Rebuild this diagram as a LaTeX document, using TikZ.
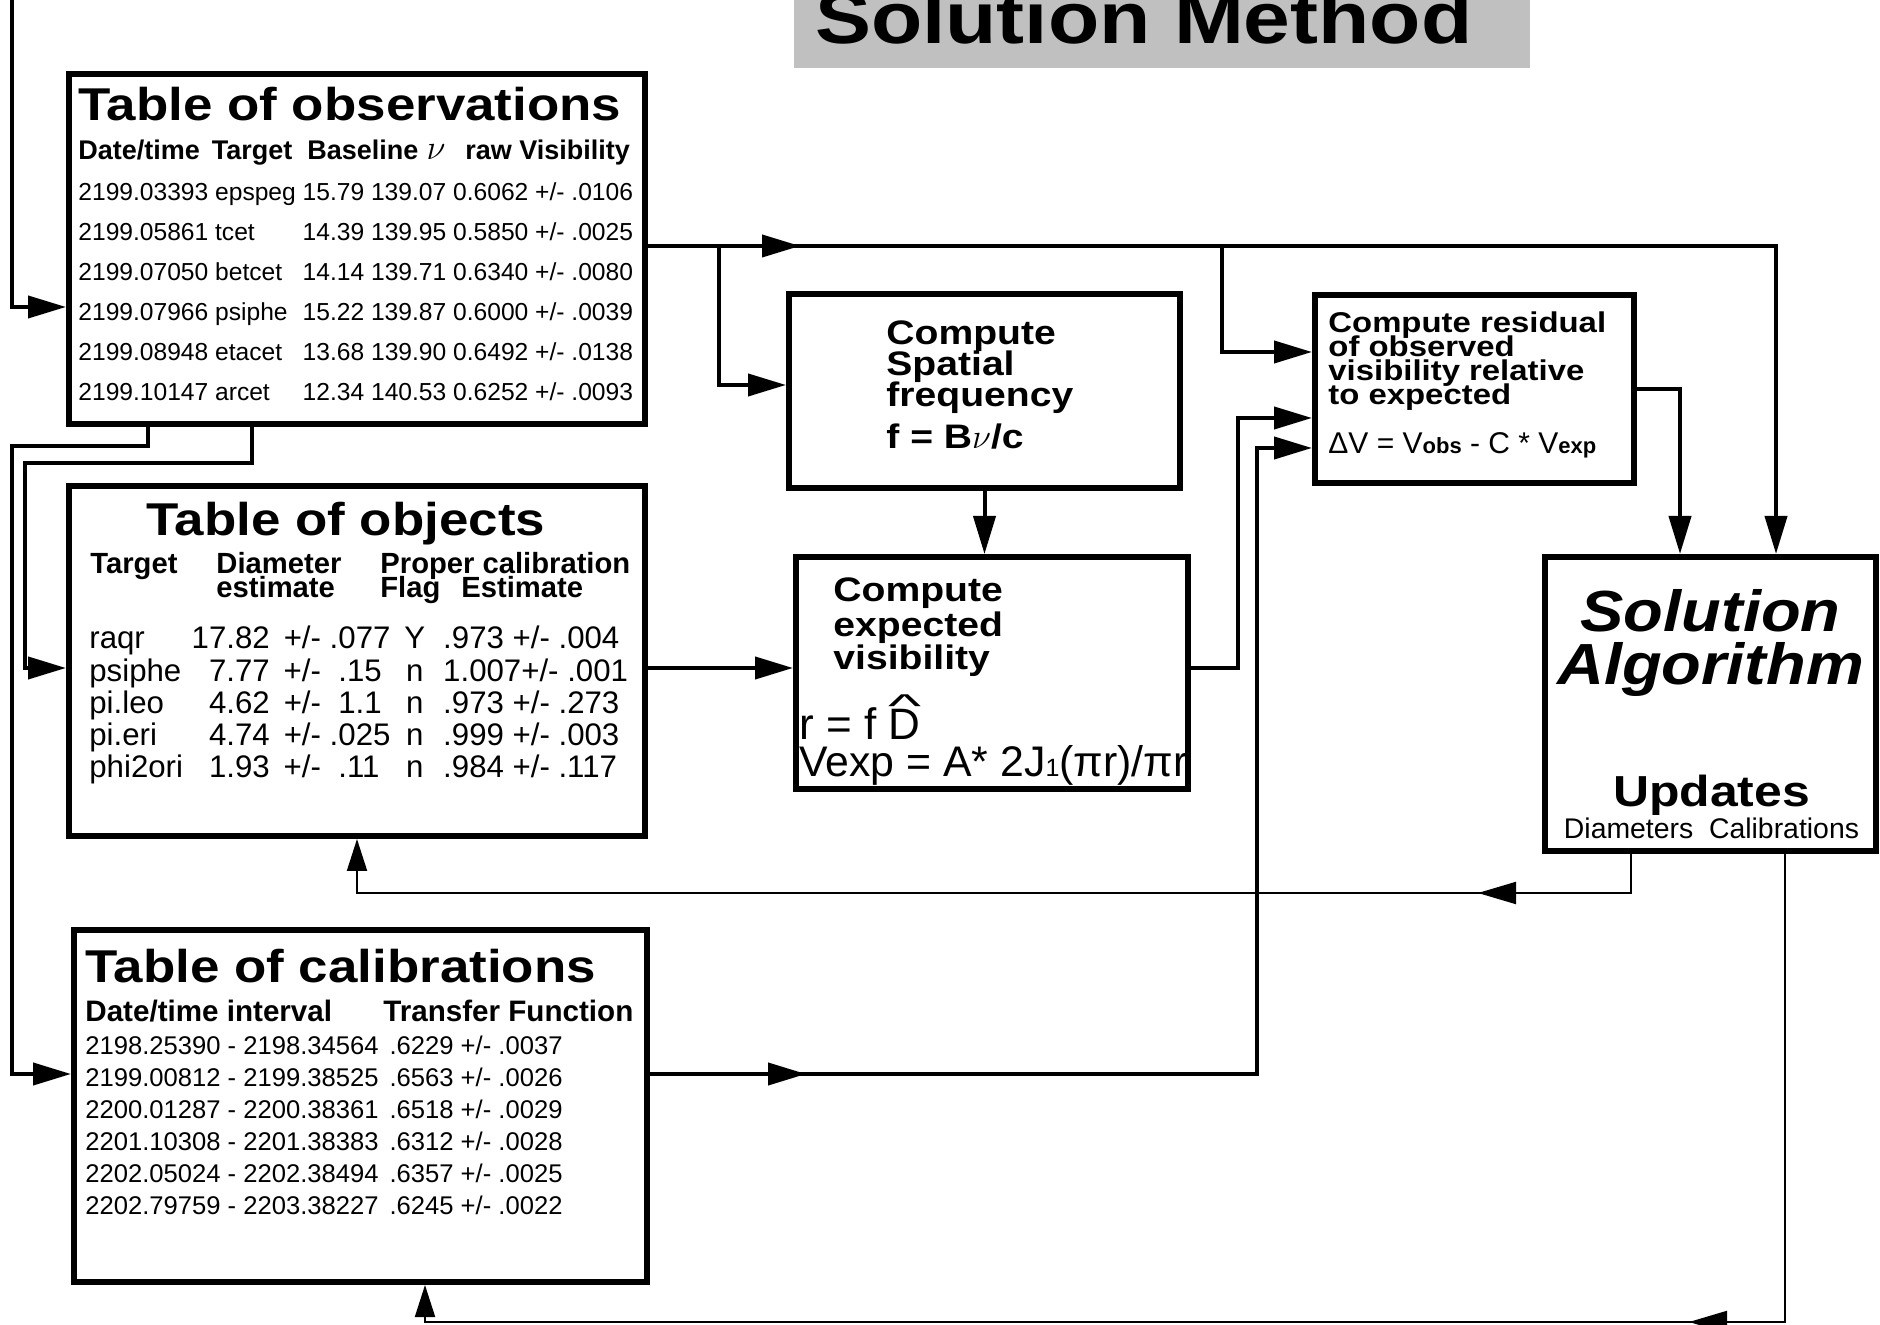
\documentclass[tikz,border=0pt]{standalone}
\usepackage{fontspec}
\usepackage{graphicx}
\setmainfont{Liberation Sans}
\newfontfamily\widebf[FakeStretch=1.15]{Liberation Sans Bold}
\newfontfamily\wideit[FakeStretch=1.12]{Liberation Sans Bold Italic}
\usetikzlibrary{arrows.meta,calc,fit,decorations.markings}
\definecolor{titlegray}{RGB}{192,192,192}
\newcommand\setfs[2]{\fontsize{#1}{#2}\selectfont}
\newcommand\bighat[1]{\ooalign{#1\cr\hidewidth\raisebox{0.52em}{\scalebox{1.6}[0.75]{\textasciicircum}}\hidewidth\cr}}

\begin{document}
\begin{tikzpicture}[x=0.5pt,y=-0.5pt,
  box/.style={draw,line width=3pt,inner sep=0pt},
  txt/.style={anchor=base west,inner sep=0pt},
  ctxt/.style={anchor=base,inner sep=0pt},
  ttl/.style={txt,font=\widebf\setfs{23}{28}},
  cmp/.style={txt,font=\widebf\setfs{17}{20}},
  res/.style={txt,font=\widebf\setfs{14.3}{12}},
  conn/.style={line width=2pt,-{Triangle[length=19pt,width=11pt]}},
  fbconn/.style={line width=1pt,-{Triangle[length=16pt,width=10pt]}},
  midtip/.style={postaction={decorate},decoration={markings,
    mark=at position #1 with {\arrow{Triangle[length=19pt,width=11pt]}}}}]
\useasboundingbox (0,0) rectangle (1880,1325);
\clip (0,0) rectangle (1880,1325);
\fill[white] (0,0) rectangle (1880,1325);

% title
\node[fill=titlegray,inner sep=0pt,fit={(794,0) (1530,68)}] (titlebox) {};
\node[txt,font=\widebf\setfs{36.5}{40}] at ($(titlebox.south west)+(21,-25)$) (title) {Solution Method};

% boxes
\node[box,fit={(69,74) (645,424)}] (obs) {};
\node[box,fit={(69,486) (645,836)}] (objs) {};
\node[box,fit={(74,930) (647,1282)}] (cal) {};
\node[box,fit={(789,294) (1180,488)}] (spat) {};
\node[box,fit={(796,557) (1188,789)}] (exp) {};
\node[box,fit={(1315,295) (1634,483)}] (resid) {};
\node[box,fit={(1545,557) (1876,851)}] (sol) {};

% table of observations
\node[ttl] at ($(obs.north west)+(12,50)$) (obstitle) {Table of observations};
\node[txt,font=\bfseries\setfs{13.5}{16}] at ($(obstitle.base west)+(0,39)$) (obshdr)
  {Date/time\hspace{6pt}Target\hspace{7.5pt}Baseline\hspace{4pt}{\setfs{18}{16}$\nu$}\hspace{10pt}raw Visibility};
\node[txt,font=\setfs{12.3}{20}] at ($(obshdr.base west)+(0,41)$) (obsdata) {%
\begin{tabular}[t]{@{}l@{\ }l@{\ }l@{\ }l@{\ }l@{}}
2199.03393 & epspeg & 15.79 & 139.07 & 0.6062 +/- .0106\\
2199.05861 & tcet   & 14.39 & 139.95 & 0.5850 +/- .0025\\
2199.07050 & betcet & 14.14 & 139.71 & 0.6340 +/- .0080\\
2199.07966 & psiphe & 15.22 & 139.87 & 0.6000 +/- .0039\\
2199.08948 & etacet & 13.68 & 139.90 & 0.6492 +/- .0138\\
2199.10147 & arcet  & 12.34 & 140.53 & 0.6252 +/- .0093
\end{tabular}};

% table of objects
\node[ttl] at ($(objs.north west)+(80,53)$) (objstitle) {Table of objects};
\node[txt,font=\bfseries\setfs{14.6}{10.5}] at ($(objs.north west)+(24,91)$) (objshdr) {%
\begin{tabular}[t]{@{}l@{\hspace{19.5pt}}l@{\hspace{19.5pt}}l@{}}
Target & Diameter & Proper calibration\\[-2.2pt]
       & estimate & Flag\hspace{10.5pt}Estimate
\end{tabular}};
\node[txt,font=\setfs{15.6}{16}] at ($(objs.north west)+(23,166)$) (objsdata) {%
\begin{tabular}[t]{@{}l@{\ }r@{\hspace{7pt}}l@{\hspace{7pt}}c@{\hspace{9pt}}l@{}}
raqr    & 17.82 & +/- .077     & Y & .973 +/- .004\\
psiphe  & 7.77  & +/-\ \ .15   & n & 1.007+/- .001\\
pi.leo  & 4.62  & +/-\ \ 1.1   & n & .973 +/- .273\\
pi.eri  & 4.74  & +/- .025     & n & .999 +/- .003\\
phi2ori & 1.93  & +/-\ \ .11   & n & .984 +/- .117
\end{tabular}};

% table of calibrations
\node[ttl] at ($(cal.north west)+(14,55)$) (caltitle) {Table of calibrations};
\node[txt,font=\bfseries\setfs{14.8}{16}] at ($(caltitle.base west)+(0,39)$) (calhdr)
  {\makebox[149pt][l]{Date/time interval}Transfer Function};
\node[txt,font=\setfs{12.8}{16}] at ($(calhdr.base west)+(0,33)$) (caldata) {%
\begin{tabular}[t]{@{}l@{\hspace{5.5pt}}l@{}}
2198.25390 - 2198.34564 & .6229 +/- .0037\\
2199.00812 - 2199.38525 & .6563 +/- .0026\\
2200.01287 - 2200.38361 & .6518 +/- .0029\\
2201.10308 - 2201.38383 & .6312 +/- .0028\\
2202.05024 - 2202.38494 & .6357 +/- .0025\\
2202.79759 - 2203.38227 & .6245 +/- .0022
\end{tabular}};

% compute spatial frequency
\node[cmp] at ($(spat.north west)+(100,54)$) (spat1) {Compute};
\node[cmp] at ($(spat1.base west)+(0,31)$) (spat2) {Spatial};
\node[cmp] at ($(spat2.base west)+(0,31)$) (spat3) {frequency};
\node[cmp] at ($(spat3.base west)+(0,42)$) (spat4) {f = B$\nu$/c};

% compute expected visibility
\node[cmp] at ($(exp.north west)+(40,48)$) (exp1) {Compute};
\node[cmp] at ($(exp1.base west)+(0,35)$) (exp2) {expected};
\node[cmp] at ($(exp2.base west)+(0,33)$) (exp3) {visibility};
\node[txt,font=\setfs{22}{24}] at ($(exp.north west)+(6,186)$) (rdef) {r = f \bighat{D}};
\node[txt,font=\setfs{21.4}{24}] at ($(rdef.base west)+(0,37)$) (vexp)
  {Vexp = A* 2J{\setfs{12.5}{13}1}(πr)/πr};

% compute residual
\node[res] at ($(resid.north west)+(16,41)$) (res1) {Compute residual};
\node[res] at ($(res1.base west)+(0,24)$) (res2) {of observed};
\node[res] at ($(res2.base west)+(0,24)$) (res3) {visibility relative};
\node[res] at ($(res3.base west)+(0,24)$) (res4) {to expected};
\node[txt,font=\setfs{15}{16}] at ($(res1.base west)+(0,121)$) (dv)
  {ΔV = V{\bfseries\setfs{11}{12}obs} - C * V{\bfseries\setfs{11}{12}exp}};

% solution algorithm
\node[ctxt,font=\wideit\setfs{29}{30}] at ($(sol.north)+(0,78)$) (soltop) {Solution};
\node[ctxt,font=\wideit\setfs{29}{30}] at ($(soltop.base)+(0,53)$) (solbot) {Algorithm};
\node[ctxt,font=\widebf\setfs{21.7}{24}] at ($(sol.north)+(1,253)$) (upd) {Updates};
\node[ctxt,font=\setfs{14.2}{16}] at ($(upd.base)+(0,32)$) (updwhat) {Diameters\ \ Calibrations};

% connectors
\coordinate (feed) at (12,0);
\coordinate (objsin) at ($(objs.north west)+(0,185)$);
\coordinate (objsout) at ($(objs.north east)+(0,185)$);
\draw[conn] (feed) |- ($(obs.north west)+(0,236)$);
\draw[conn,midtip=76pt] ($(obs.east)+(0,-3)$) -| ($(sol.north west)+(234,0)$);
\draw[conn] ($(obs.east)+(71,-3)$) |- ($(spat.west)+(0,-6)$);
\draw[conn] ($(obs.east)+(574,-3)$) |- ($(resid.north west)+(0,60)$);
\draw[conn] (spat.south) -- (spat.south |- exp.north);
\draw[conn] (objsout) -- (objsout -| exp.west);
\draw[conn] ($(exp.east)+(0,-5)$) -- ++(47,0) |- ($(resid.north west)+(0,126)$);
\draw[conn,midtip=78pt] ($(cal.north east)+(0,147)$) -- ++(607,0) |- ($(resid.north west)+(0,156)$);
\draw[conn] (resid.east) -| ($(sol.north west)+(138,0)$);
\draw[conn] ($(obs.south west)+(186,0)$) -- ++(0,36) -- ++(-227,0) |- (objsin);
\draw[conn] ($(obs.south west)+(82,0)$) -- ++(0,19) -- ++(-136,0) |- ($(cal.north west)+(0,147)$);
% feedback from the solution
\draw[fbconn,midtip=96pt] ($(sol.south west)+(89,0)$) -- ++(0,39) -| (objs.south);
\draw[fbconn,midtip=282pt] ($(sol.south west)+(243,0)$) -- ++(0,468) -| ($(cal.south east)+(-225,0)$);
\end{tikzpicture}
\end{document}
